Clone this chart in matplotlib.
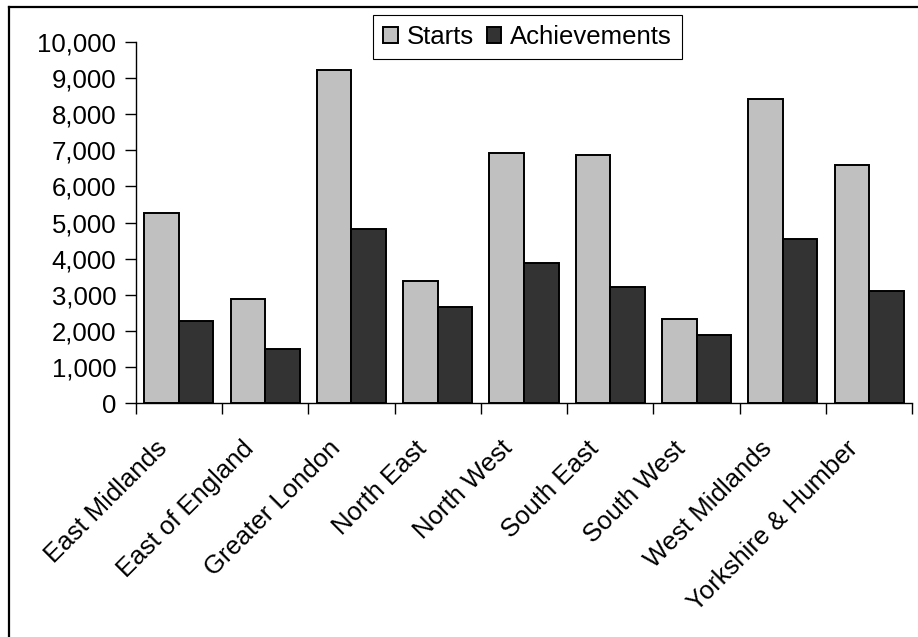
import matplotlib
matplotlib.use("Agg")
import matplotlib.pyplot as plt
import matplotlib.transforms as mtransforms
from matplotlib.lines import Line2D
import numpy as np

regions = ["East Midlands", "East of England", "Greater London", "North East",
           "North West", "South East", "South West", "West Midlands",
           "Yorkshire & Humber"]
starts = [5250, 2880, 9230, 3380, 6910, 6860, 2330, 8410, 6590]
achievements = [2280, 1500, 4820, 2670, 3880, 3220, 1900, 4540, 3100]
yticks = [0, 1000, 2000, 3000, 4000, 5000, 6000, 7000, 8000, 9000, 10000]

plt.rcParams["font.family"] = ["Liberation Sans", "DejaVu Sans"]
fs = 18.5

fig = plt.figure(figsize=(9.18, 6.37), dpi=100)
ax = fig.add_axes([0.1478, 0.3669, 0.9938 - 0.1478, 0.9345 - 0.3669])

x = np.arange(len(regions))
w = 0.4
ax.bar(x - w / 2, starts, w, color="#c0c0c0", edgecolor="black", linewidth=1.4, label="Starts")
ax.bar(x + w / 2, achievements, w, color="#333333", edgecolor="black", linewidth=1.4, label="Achievements")

ax.set_xlim(-0.5, len(regions) - 0.5)
ax.set_ylim(0, 10000)
ax.set_yticks(yticks)
ax.set_yticklabels([f"{v:,}" for v in yticks], fontsize=fs)
ax.tick_params(axis="y", direction="out", length=8, width=1, pad=6)

# labels at centres, ticks at category boundaries
ax.set_xticks(x)
ax.set_xticklabels(regions, fontsize=fs, rotation=45, ha="right", va="center",
                   rotation_mode="anchor")
ax.tick_params(axis="x", which="major", length=0, pad=30)
ax.set_xticks(np.arange(-0.5, len(regions)), minor=True)
ax.tick_params(axis="x", which="minor", direction="out", length=8, width=1)
shift = mtransforms.ScaledTranslation(-15 / 100, 0, fig.dpi_scale_trans)
for lab in ax.get_xticklabels():
    lab.set_transform(lab.get_transform() + shift)

for s in ["top", "right"]:
    ax.spines[s].set_visible(False)
for s in ["left", "bottom"]:
    ax.spines[s].set_linewidth(1)

leg = fig.legend(loc="center", bbox_to_anchor=(0.5746, 0.9421), ncol=2,
                 fontsize=fs, frameon=True, fancybox=False, framealpha=1,
                 edgecolor="black", handlelength=0.58, handleheight=0.58,
                 handletextpad=0.33, columnspacing=0.5, borderpad=0.4)
leg.get_frame().set_linewidth(0.8)

# outer chart frame (only top and left edges visible)
fig.add_artist(Line2D([9 / 918, 1], [1 - 7 / 637, 1 - 7 / 637], transform=fig.transFigure,
                      color="black", linewidth=1.6))
fig.add_artist(Line2D([9 / 918, 9 / 918], [0, 1 - 7 / 637], transform=fig.transFigure,
                      color="black", linewidth=1.6))

fig.savefig("out.png", dpi=100)
